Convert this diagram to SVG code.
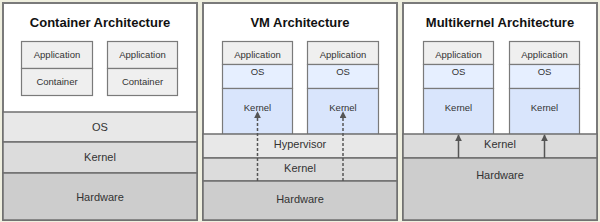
<svg xmlns="http://www.w3.org/2000/svg" width="600" height="222" viewBox="0 0 600 222">
<defs>
<style>
.panel{fill:#ffffff;stroke:#7a7a7a;stroke-width:2}
.box{stroke:#7a7a7a;stroke-width:1.2}
.app{fill:#efefef}
.os{fill:#e6efff}
.kern{fill:#d9e5fc}
.l1{fill:#e8e8e8;stroke:#6f6f6f;stroke-width:1.5}
.l2{fill:#dcdcdc;stroke:#6f6f6f;stroke-width:1.5}
.l3{fill:#cdcdcd;stroke:#6f6f6f;stroke-width:1.5}
text{font-family:"Liberation Sans",Arial,sans-serif;fill:#333;text-anchor:middle}
.title{font-size:13px;font-weight:bold;fill:#111}
.s{font-size:9.5px}
.m{font-size:11px}
.arr{stroke:#555;stroke-width:1.5;fill:none}
.dash{stroke-dasharray:3 2}
</style>
<marker id="ah" viewBox="0 0 10 10" refX="9" refY="5" markerWidth="7" markerHeight="7" orient="auto" markerUnits="userSpaceOnUse">
<path d="M0,0 L10,5 L0,10 z" fill="#555"/>
</marker>
</defs>
<rect x="0" y="0" width="600" height="222" fill="#efefdf"/>

<g id="panel-container">
<rect class="panel" x="3" y="3" width="194" height="217"/>
<text class="title" x="100" y="26.5">Container Architecture</text>
<g id="c-box1">
<rect class="box app" x="21.5" y="41.5" width="71" height="27"/>
<rect class="box app" x="21.5" y="68.5" width="71" height="27"/>
<text class="s" x="57" y="57.5">Application</text>
<text class="s" x="57" y="84.5">Container</text>
</g>
<g id="c-box2">
<rect class="box app" x="107.5" y="41.5" width="70" height="27"/>
<rect class="box app" x="107.5" y="68.5" width="70" height="27"/>
<text class="s" x="142.5" y="57.5">Application</text>
<text class="s" x="142.5" y="84.5">Container</text>
</g>
<g id="c-os"><rect class="l1" x="3" y="112" width="194" height="30"/><text class="m" x="100" y="130.5">OS</text></g>
<g id="c-kernel"><rect class="l2" x="3" y="142" width="194" height="31"/><text class="m" x="100" y="161">Kernel</text></g>
<g id="c-hw"><rect class="l3" x="3" y="173" width="194" height="47"/><text class="m" x="100" y="201">Hardware</text></g>
</g>

<g id="panel-vm">
<rect class="panel" x="203" y="3" width="194" height="217"/>
<text class="title" x="300" y="26.5">VM Architecture</text>
<g id="vm-box1">
<rect class="box app" x="222.5" y="41.5" width="70" height="23"/>
<rect class="box os" x="222.5" y="64.5" width="70" height="24"/>
<rect class="box kern" x="222.5" y="88.5" width="70" height="46"/>
<text class="s" x="257.5" y="57.5">Application</text>
<text class="s" x="257.5" y="75">OS</text>
<text class="s" x="257.5" y="111">Kernel</text>
</g>
<g id="vm-box2">
<rect class="box app" x="307.5" y="41.5" width="71" height="23"/>
<rect class="box os" x="307.5" y="64.5" width="71" height="24"/>
<rect class="box kern" x="307.5" y="88.5" width="71" height="46"/>
<text class="s" x="343" y="57.5">Application</text>
<text class="s" x="343" y="75">OS</text>
<text class="s" x="343" y="111">Kernel</text>
</g>
<g id="vm-hyp"><rect class="l1" x="203" y="134" width="194" height="24"/><text class="m" x="300" y="148">Hypervisor</text></g>
<g id="vm-kernel"><rect class="l2" x="203" y="158" width="194" height="23"/><text class="m" x="300" y="171.5">Kernel</text></g>
<g id="vm-hw"><rect class="l3" x="203" y="181" width="194" height="39"/><text class="m" x="300" y="203">Hardware</text></g>
</g>

<g id="panel-multikernel">
<rect class="panel" x="403" y="3" width="194" height="217"/>
<text class="title" x="500" y="26.5">Multikernel Architecture</text>
<g id="mk-box1">
<rect class="box app" x="423.5" y="41.5" width="70" height="23"/>
<rect class="box os" x="423.5" y="64.5" width="70" height="24"/>
<rect class="box kern" x="423.5" y="88.5" width="70" height="46"/>
<text class="s" x="458.5" y="57.5">Application</text>
<text class="s" x="458.5" y="75">OS</text>
<text class="s" x="458.5" y="111">Kernel</text>
</g>
<g id="mk-box2">
<rect class="box app" x="509.5" y="41.5" width="70" height="23"/>
<rect class="box os" x="509.5" y="64.5" width="70" height="24"/>
<rect class="box kern" x="509.5" y="88.5" width="70" height="46"/>
<text class="s" x="544.5" y="57.5">Application</text>
<text class="s" x="544.5" y="75">OS</text>
<text class="s" x="544.5" y="111">Kernel</text>
</g>
<g id="mk-kernel"><rect class="l2" x="403" y="134" width="194" height="24"/><text class="m" x="500" y="148">Kernel</text></g>
<g id="mk-hw"><rect class="l3" x="403" y="158" width="194" height="62"/><text class="m" x="500" y="179">Hardware</text></g>
</g>

<g id="connectors">
<line class="arr dash" x1="257.5" y1="181" x2="257.5" y2="112" marker-end="url(#ah)"/>
<line class="arr dash" x1="343" y1="181" x2="343" y2="112" marker-end="url(#ah)"/>
<line class="arr" x1="458.5" y1="158" x2="458.5" y2="135" marker-end="url(#ah)"/>
<line class="arr" x1="544.5" y1="158" x2="544.5" y2="135" marker-end="url(#ah)"/>
</g>
</svg>
